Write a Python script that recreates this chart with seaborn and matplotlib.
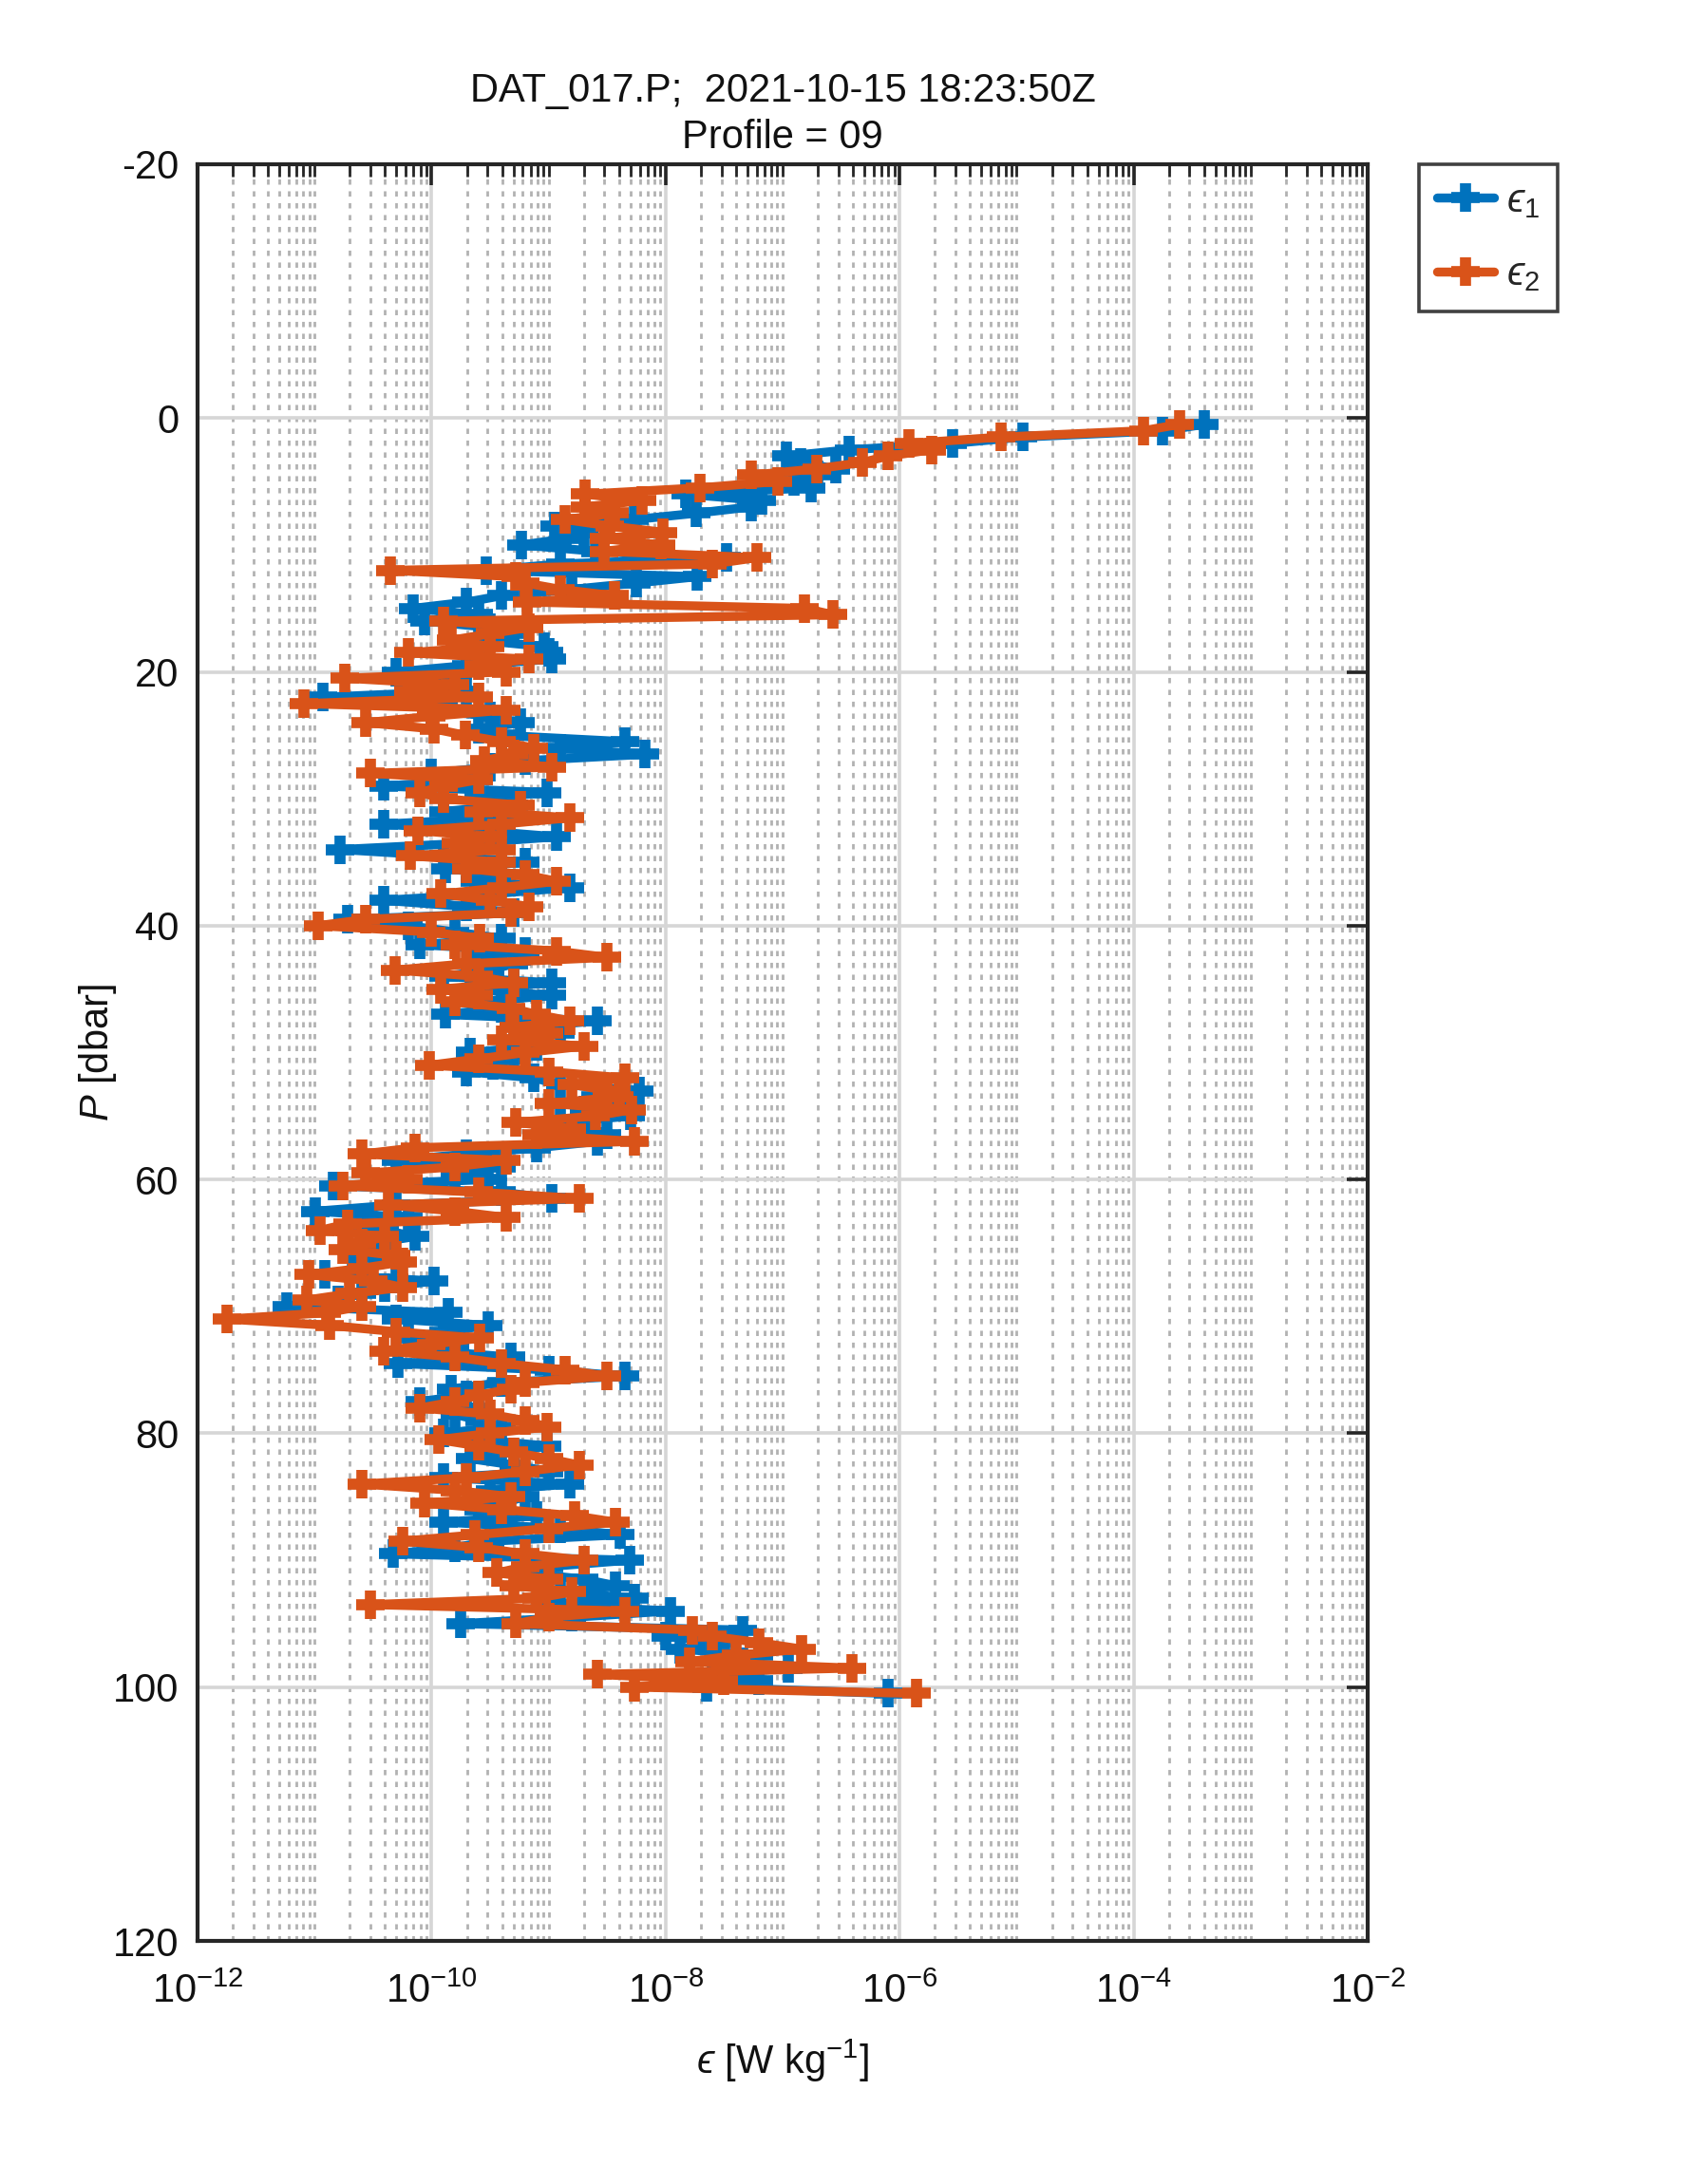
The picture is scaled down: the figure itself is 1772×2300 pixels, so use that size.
import numpy as np
import pandas as pd
import matplotlib
matplotlib.use("Agg")
import matplotlib.pyplot as plt
import matplotlib.ticker as mticker
import seaborn as sns

# ---------------- data ----------------
pressure = [round(0.5 * k, 1) for k in range(1, 202)]  # 0.5 ... 100.5 dbar

log_eps1 = [
    -3.40, -3.75, -4.95, -5.55, -6.43, -6.97, -6.85, -6.55, -6.70, -6.90,
    -6.76, -7.83, -7.18, -7.27, -7.74, -8.27, -8.95, -8.70, -8.85, -9.23,
    -8.60, -7.48, -8.90, -9.53, -7.73, -8.25, -8.80, -9.40, -9.70, -10.16,
    -9.60, -10.06, -9.50, -9.30, -9.60, -9.04, -9.00, -8.97, -9.70, -10.30,
    -9.80, -10.20, -9.70, -10.93, -9.90, -10.00, -9.50, -9.24, -9.60, -9.40,
    -8.35, -8.90, -8.18, -9.20, -9.50, -10.00, -9.60, -10.41, -9.01, -9.60,
    -9.30, -9.90, -9.40, -10.41, -9.60, -8.93, -9.70, -10.78, -9.90, -9.20,
    -9.88, -9.40, -9.63, -8.82, -9.50, -10.41, -9.70, -9.30, -10.72, -10.20,
    -9.80, -9.40, -10.10, -9.20, -9.60, -9.30, -9.50, -9.90, -8.97, -9.67,
    -8.97, -9.60, -9.40, -9.88, -8.58, -9.20, -8.90, -9.30, -9.10, -9.67,
    -9.30, -9.48, -9.70, -9.13, -8.90, -8.23, -8.60, -8.40, -8.70, -8.30,
    -8.90, -8.74, -8.50, -8.58, -9.10, -9.70, -10.30, -9.40, -9.80, -9.52,
    -10.84, -9.40, -8.97, -10.30, -10.99, -10.20, -10.60, -10.40, -10.14, -10.50,
    -10.40, -10.68, -10.30, -10.60, -10.91, -9.98, -10.40, -10.60, -10.80, -11.24,
    -9.86, -10.30, -9.52, -9.90, -10.20, -9.80, -10.00, -9.32, -10.29, -9.00,
    -8.35, -9.40, -9.83, -9.70, -10.10, -9.60, -9.80, -9.59, -9.40, -9.90,
    -9.60, -9.01, -9.40, -9.67, -9.30, -9.00, -9.90, -8.82, -9.50, -9.20,
    -9.40, -9.60, -9.10, -9.90, -8.90, -8.39, -9.50, -9.80, -10.33, -8.31,
    -9.00, -9.20, -8.70, -8.43, -8.90, -8.27, -9.00, -7.96, -8.80, -9.75,
    -7.34, -8.00, -7.50, -7.88, -7.20, -7.34, -6.95, -7.60, -7.20, -7.65,
    -6.10,
]

log_eps2 = [
    -3.61, -3.92, -5.13, -5.92, -5.73, -6.10, -6.32, -6.71, -7.27, -7.04,
    -7.71, -8.69, -8.20, -8.69, -8.44, -8.86, -8.48, -8.02, -8.53, -8.04,
    -8.53, -7.22, -7.60, -10.35, -9.28, -9.20, -8.90, -8.44, -9.18, -6.81,
    -6.57, -9.90, -9.17, -9.50, -9.83, -9.50, -10.20, -9.17, -9.60, -9.36,
    -10.74, -9.80, -10.20, -9.60, -11.09, -9.36, -10.00, -10.56, -9.98, -9.71,
    -9.40, -9.13, -9.30, -9.55, -8.97, -10.52, -9.60, -9.90, -10.10, -9.90,
    -9.24, -9.60, -8.82, -9.40, -10.12, -9.50, -9.79, -9.40, -10.18, -9.40,
    -9.70, -9.20, -8.93, -9.40, -9.92, -9.50, -9.17, -9.32, -10.56, -10.97,
    -10.00, -9.59, -9.80, -8.93, -8.50, -9.70, -10.31, -9.60, -9.30, -9.92,
    -9.60, -9.80, -9.32, -9.10, -8.82, -9.30, -9.00, -9.40, -8.70, -9.20,
    -9.60, -10.02, -9.00, -8.35, -8.80, -8.50, -8.40, -9.00, -8.29, -8.60,
    -9.28, -8.80, -9.10, -8.27, -10.14, -10.60, -9.36, -9.80, -10.56, -10.20,
    -10.76, -9.60, -8.74, -10.37, -9.80, -9.36, -10.72, -10.95, -10.40, -10.60,
    -10.76, -10.30, -10.25, -10.60, -11.05, -10.50, -10.25, -10.70, -11.07, -10.60,
    -10.90, -11.75, -10.87, -10.30, -9.59, -10.00, -10.41, -9.80, -9.40, -8.86,
    -8.50, -9.20, -9.32, -9.60, -9.80, -10.10, -9.50, -9.20, -9.01, -9.50,
    -9.94, -9.60, -9.30, -9.00, -8.74, -9.20, -9.70, -10.60, -9.80, -9.32,
    -10.06, -9.40, -8.78, -8.43, -9.00, -9.63, -10.25, -9.60, -9.20, -8.70,
    -9.20, -9.44, -9.00, -9.30, -8.80, -9.10, -10.52, -8.35, -9.00, -9.28,
    -7.77, -7.60, -7.20, -6.84, -7.40, -7.80, -6.41, -8.58, -7.50, -8.27,
    -5.86,
]

series_labels = ["$\u03f5_1$", "$\u03f5_2$"]
title_lines = ["DAT_017.P;  2021-10-15 18:23:50Z", "Profile = 09"]
xlabel_text = "$\u03f5$ [W kg$^{-1}$]"
ylabel_text = r"$P$ [dbar]"
yticks = [-20, 0, 20, 40, 60, 80, 100, 120]
xmajor = [1e-12, 1e-10, 1e-8, 1e-6, 1e-4, 1e-2]

eps1 = 10.0 ** np.array(log_eps1)
eps2 = 10.0 ** np.array(log_eps2)

# ---------------- style ----------------
sns.set_style("white")
plt.rcParams["font.family"] = ["Liberation Sans", "DejaVu Sans"]
plt.rcParams["mathtext.fontset"] = "custom"
plt.rcParams["mathtext.rm"] = "Liberation Sans"
plt.rcParams["mathtext.it"] = "Liberation Sans:italic"
plt.rcParams["mathtext.bf"] = "Liberation Sans:bold"
plt.rcParams["mathtext.fallback"] = "stixsans"

BLUE = "#0072BD"
ORANGE = "#D95319"
AXC = "#262626"

fig = plt.figure(figsize=(8.86, 11.5), dpi=200)
ax = fig.add_axes([0.1174, 0.1113, 0.6953, 0.8135])

common = dict(sort=False, estimator=None, marker="+", markersize=11,
              markeredgewidth=4.2, linewidth=3.4, ax=ax)
sns.lineplot(x=eps1, y=pressure, color=BLUE, label=series_labels[0],
             markeredgecolor=BLUE, zorder=3, **common)
sns.lineplot(x=eps2, y=pressure, color=ORANGE, label=series_labels[1],
             markeredgecolor=ORANGE, zorder=4, **common)

ax.set_xscale("log")
ax.set_xlim(1e-12, 1e-2)
ax.set_ylim(120, -20)
ax.set_yticks(yticks)
ax.set_yticklabels([str(v) for v in yticks])

ax.xaxis.set_major_locator(mticker.FixedLocator(xmajor))
ax.xaxis.set_major_formatter(mticker.LogFormatterMathtext())
ax.xaxis.set_minor_locator(mticker.LogLocator(base=10, subs=np.arange(1, 10), numticks=30))
ax.xaxis.set_minor_formatter(mticker.NullFormatter())

# grids
ax.grid(True, which="major", axis="both", color="#d6d6d6", linewidth=1.3, linestyle="-", zorder=0)
ax.grid(True, which="minor", axis="x", color="#b2b2b2", linewidth=1.0, linestyle=(0, (2, 2.5)), zorder=0)
ax.set_axisbelow(True)

ax.tick_params(axis="both", which="both", direction="in", top=True, right=True,
               colors=AXC, labelcolor="#111111")
ax.tick_params(axis="both", which="major", length=8, width=1.3, labelsize=15)
ax.tick_params(axis="x", which="major", pad=12)
ax.tick_params(axis="y", which="major", pad=7)
ax.tick_params(axis="x", which="minor", length=4.5, width=1.0)

for sp in ax.spines.values():
    sp.set_color(AXC)
    sp.set_linewidth(1.5)

ax.set_xlabel(xlabel_text, fontsize=15, color="#111111", labelpad=10)
ax.set_ylabel(ylabel_text, fontsize=15, color="#111111", labelpad=-2)
ax.set_title("\n".join(title_lines), fontsize=15, color="#111111", pad=6, linespacing=1.3)

leg = ax.legend(loc="upper left", bbox_to_anchor=(1.044, 1.0), frameon=True,
                fancybox=False, edgecolor="#111111", fontsize=15,
                handlelength=1.45, handletextpad=0.3, borderpad=0.45,
                labelspacing=0.9, borderaxespad=0.0)
leg.get_frame().set_linewidth(1.3)

fig.savefig("out.png", dpi=200, facecolor="white")
